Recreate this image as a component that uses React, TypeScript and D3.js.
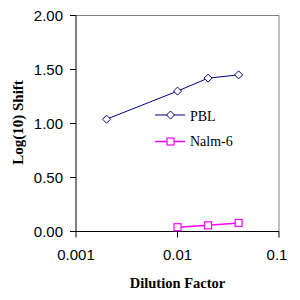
import React from "react";
import * as d3 from "d3";

const pblX = [0.002, 0.01, 0.02, 0.04];
const pblY = [1.04, 1.3, 1.42, 1.45];
const nalmX = [0.01, 0.02, 0.04];
const nalmY = [0.04, 0.057, 0.079];
const yTicks = [0, 0.5, 1.0, 1.5, 2.0];
const xTicks = [0.001, 0.01, 0.1];
const seriesNames = ["PBL", "Nalm-6"];

export default function App() {
  const W = 300, H = 300;
  const left = 76, right = 279, top = 15.5, bottom = 231.5;
  const x = d3.scaleLog().domain([0.001, 0.1]).range([left, right]);
  const y = d3.scaleLinear().domain([0, 2]).range([bottom, top]);
  const line = d3.line<number>().x((_, i) => 0).y(() => 0);
  const mk = (xs: number[], ys: number[]) =>
    d3.line<[number, number]>().x(d => x(d[0])).y(d => y(d[1]))(xs.map((v, i) => [v, ys[i]]) as [number, number][]) || "";
  const diamond = (cx: number, cy: number, r = 4) =>
    `M${cx},${cy - r}L${cx + r},${cy}L${cx},${cy + r}L${cx - r},${cy}Z`;
  const navy = "#000080", mag = "#FF00FF";
  const sans = "'Liberation Sans', Arial, sans-serif";
  const serif = "'Liberation Serif', 'Times New Roman', serif";
  void line;
  return (
    <svg width={W} height={H} style={{ position: "absolute", left: 0, top: 0, background: "#fff" }}>
      <rect width={W} height={H} fill="#fff" />
      {/* frame top/right */}
      <line x1={left} x2={right} y1={top} y2={top} stroke="#808080" />
      <line x1={right} x2={right} y1={top} y2={bottom} stroke="#808080" />
      {/* axes */}
      <line x1={left} x2={left} y1={top} y2={bottom} stroke="#000" />
      <line x1={left} x2={right} y1={bottom} y2={bottom} stroke="#000" />
      {yTicks.map(t => (
        <g key={t}>
          <line x1={left - 6} x2={left} y1={y(t)} y2={y(t)} stroke="#000" />
          <text x={63} y={y(t) + 5} textAnchor="end" fontFamily={sans} fontSize={15} fill="#000">
            {t.toFixed(2)}
          </text>
        </g>
      ))}
      {xTicks.map(t => (
        <g key={t}>
          <line x1={x(t)} x2={x(t)} y1={bottom} y2={bottom + 6} stroke="#000" />
          <text x={x(t) - (t === 0.1 ? 2 : 0)} y={260} textAnchor="middle" fontFamily={sans} fontSize={15} fill="#000">
            {String(t)}
          </text>
        </g>
      ))}
      {/* series */}
      <path d={mk(pblX, pblY)} fill="none" stroke={navy} strokeWidth={1} />
      {pblX.map((v, i) => (
        <path key={i} d={diamond(x(v), y(pblY[i]))} fill="#fff" stroke={navy} />
      ))}
      <path d={mk(nalmX, nalmY)} fill="none" stroke={mag} strokeWidth={1.5} />
      {nalmX.map((v, i) => (
        <rect key={i} x={x(v) - 3.5} y={y(nalmY[i]) - 3.5} width={7} height={7} fill="#fff" stroke={mag} strokeWidth={1.2} />
      ))}
      {/* legend */}
      <line x1={155} x2={185} y1={115} y2={115} stroke={navy} />
      <path d={diamond(170.5, 115)} fill="#fff" stroke={navy} />
      <text x={190} y={121} fontFamily={serif} fontSize={14} fill="#000">{seriesNames[0]}</text>
      <line x1={155} x2={185} y1={141.5} y2={141.5} stroke={mag} strokeWidth={1.5} />
      <rect x={167} y={138} width={7} height={7} fill="#fff" stroke={mag} strokeWidth={1.2} />
      <text x={190} y={146} fontFamily={serif} fontSize={14} fill="#000">{seriesNames[1]}</text>
      {/* titles */}
      <text x={177.5} y={288} textAnchor="middle" fontFamily={serif} fontWeight="bold" fontSize={14.5} fill="#000">
        Dilution Factor
      </text>
      <text transform="translate(23,122.5) rotate(-90)" textAnchor="middle" fontFamily={serif} fontWeight="bold" fontSize={15} fill="#000">
        Log(10) Shift
      </text>
    </svg>
  );
}
